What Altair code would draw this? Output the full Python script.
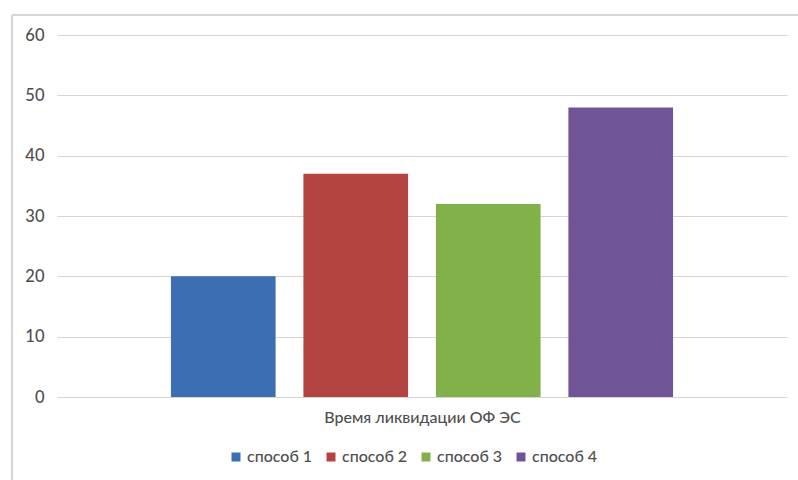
import altair as alt
import pandas as pd

# Series values for the single category
series = ["способ 1", "способ 2", "способ 3", "способ 4"]
values = [20, 37, 32, 48]
colors = ["#3C6EB4", "#B24340", "#82B04B", "#6F5597"]
category_title = "Время ликвидации ОФ ЭС"
y_ticks = [0, 10, 20, 30, 40, 50, 60]

df = pd.DataFrame({"series": series, "value": values})

FONT = "Lato"
TEXT = "#4F4F4F"
GRID = "#D9D4D0"

bars = alt.Chart(df).mark_bar().encode(
    x=alt.X(
        "series:N",
        sort=series,
        scale=alt.Scale(paddingInner=0.21, paddingOuter=0.86),
        axis=alt.Axis(
            labels=False, ticks=False, domain=False, grid=False,
            title=category_title, titleFont=FONT, titleFontSize=16,
            titleFontWeight=500, titleColor=TEXT, titlePadding=12,
        ),
    ),
    y=alt.Y(
        "value:Q",
        scale=alt.Scale(domain=[0, 60], nice=False),
        axis=alt.Axis(
            values=y_ticks, title=None, ticks=False, domain=False,
            gridColor=GRID, gridWidth=1.2, labelFont=FONT, labelFontSize=16.5,
            labelFontWeight=500, labelColor=TEXT, labelPadding=13,
        ),
    ),
    color=alt.Color(
        "series:N",
        sort=series,
        scale=alt.Scale(domain=series, range=colors),
        legend=alt.Legend(
            title=None, orient="none", direction="horizontal",
            legendX=171, legendY=414, symbolType="square", symbolSize=81,
            symbolStrokeWidth=0, labelFont=FONT, labelFontSize=16,
            labelFontWeight=500, labelColor=TEXT, labelOffset=3,
            columnPadding=10,
        ),
    ),
)

# Outer frame: left and top edges of the chart box
frame_left = alt.Chart(df).mark_rule(color=GRID, strokeWidth=1.5).encode(
    x=alt.value(-45), y=alt.value(-20), y2=alt.value(460)
)
frame_top = alt.Chart(df).mark_rule(color=GRID, strokeWidth=1.5).encode(
    x=alt.value(-45), x2=alt.value(760), y=alt.value(-20)
)

chart = (
    alt.layer(frame_left, frame_top, bars)
    .properties(
        width=730,
        height=362,
        autosize=alt.AutoSizeParams(type="none"),
        padding={"left": 57, "top": 35, "right": 11, "bottom": 83},
        background="white",
    )
    .configure_view(stroke=None)
)

chart.save("out.html", embed_options={"renderer": "svg", "actions": False})
